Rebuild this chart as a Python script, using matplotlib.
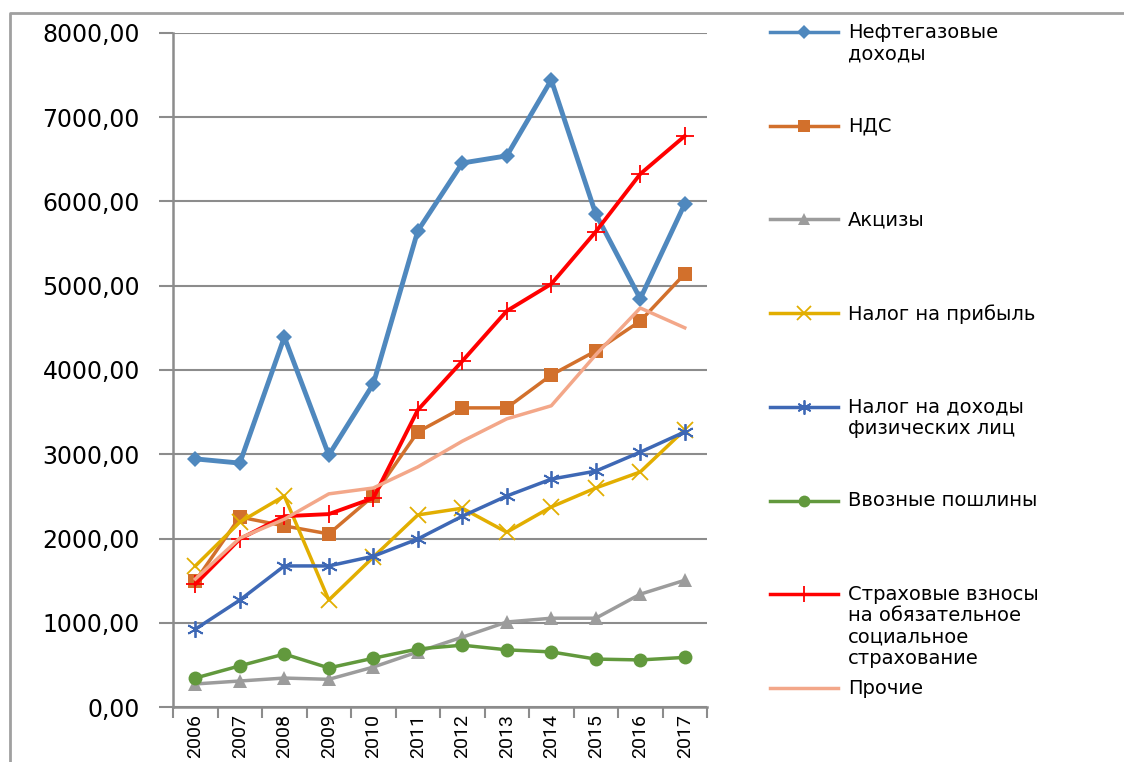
import matplotlib
matplotlib.use("Agg")
import matplotlib.pyplot as plt
from matplotlib.lines import Line2D

# Данные (млрд руб.)
years = ["2006", "2007", "2008", "2009", "2010", "2011",
         "2012", "2013", "2014", "2015", "2016", "2017"]

neftegaz = [2945, 2895, 4390, 2990, 3835, 5650, 6455, 6540, 7440, 5850, 4845, 5970]
nds = [1495, 2255, 2150, 2055, 2505, 3265, 3550, 3550, 3940, 4225, 4580, 5140]
akcizy = [275, 310, 345, 330, 475, 655, 830, 1010, 1055, 1055, 1340, 1505]
pribyl = [1675, 2195, 2505, 1270, 1780, 2280, 2360, 2075, 2375, 2600, 2790, 3290]
ndfl = [925, 1270, 1675, 1675, 1790, 1995, 2265, 2505, 2705, 2800, 3025, 3265]
vvoz = [345, 490, 630, 465, 580, 690, 735, 680, 655, 570, 560, 590]
strah = [1460, 1995, 2265, 2290, 2480, 3525, 4105, 4700, 5020, 5640, 6325, 6775]
prochie = [1520, 2005, 2230, 2530, 2600, 2850, 3155, 3420, 3575, 4180, 4735, 4500]

labels = ["Нефтегазовые\nдоходы", "НДС", "Акцизы", "Налог на прибыль",
          "Налог на доходы\nфизических лиц", "Ввозные пошлины",
          "Страховые взносы\nна обязательное\nсоциальное\nстрахование", "Прочие"]

series = [neftegaz, nds, akcizy, pribyl, ndfl, vvoz, strah, prochie]

styles = [
    dict(color="#4F88BE", lw=3.5, marker="D", ms=8, mew=0),
    dict(color="#D2702C", lw=2.5, marker="s", ms=10, mew=0),
    dict(color="#9C9C9C", lw=2.5, marker="^", ms=10, mew=0),
    dict(color="#E2AE00", lw=2.5, marker="x", ms=12, mew=1.3),
    dict(color="#3E68B5", lw=2.5, marker=(6, 2, 0), ms=12, mew=1.3),
    dict(color="#62993D", lw=2.5, marker="o", ms=10, mew=0),
    dict(color="#FF0000", lw=2.8, marker="+", ms=13, mew=1.3),
    dict(color="#F3A789", lw=2.5, marker=None),
]

fig = plt.figure(figsize=(11.24, 7.62), dpi=100)
ax = fig.add_axes([0.154, 0.072, 0.475, 0.885])

x = list(range(len(years)))
for vals, st in zip(series, styles):
    ax.plot(x, vals, **st)

ax.set_ylim(0, 8000)
ax.set_xlim(-0.5, len(years) - 0.5)
ax.set_yticks(range(0, 8001, 1000))
ax.set_yticklabels([f"{v},00" for v in range(0, 8001, 1000)],
                   fontsize=17, fontfamily="DejaVu Sans")
ax.grid(axis="y", color="#8C8C8C", lw=1.5)
ax.set_axisbelow(True)

ax.set_xticks(x)
ax.set_xticklabels(years, rotation=90, fontsize=14, va="top",
                   fontfamily=["Roboto", "DejaVu Sans"])
ax.set_xticks([i - 0.5 for i in range(len(years) + 1)], minor=True)
ax.tick_params(axis="x", which="major", length=0, pad=5)
ax.tick_params(axis="x", which="minor", length=8, width=1.5, color="#8C8C8C")
ax.tick_params(axis="y", length=10, width=1.5, color="#8C8C8C", pad=14)

for s in ["top", "right"]:
    ax.spines[s].set_visible(False)
for s in ["left", "bottom"]:
    ax.spines[s].set_color("#8C8C8C")
    ax.spines[s].set_linewidth(1.8)

# Легенда справа, элементы равномерно по вертикали
W, H = 1124, 762
for i, (lab, st) in enumerate(zip(labels, styles)):
    yp = 1 - (32 + i * 93.7) / H
    fig.add_artist(Line2D([770 / W, 838 / W], [yp, yp], color=st["color"],
                          lw=2.5, transform=fig.transFigure))
    if st["marker"] is not None:
        fig.add_artist(Line2D([804 / W], [yp], color=st["color"], lw=0,
                              marker=st["marker"], ms=st["ms"] * 0.85,
                              mew=st["mew"], transform=fig.transFigure))
    fig.text(848 / W, yp + 9 / H, lab, fontsize=14, va="top", ha="left",
             linespacing=1.15, fontfamily="DejaVu Sans")

# рамка области диаграммы
fig.add_artist(Line2D([10 / W, 10 / W, 1.0], [0, 1 - 13 / H, 1 - 13 / H],
                      color="#A0A0A0", lw=2, transform=fig.transFigure))

fig.savefig("out.png", dpi=100)
